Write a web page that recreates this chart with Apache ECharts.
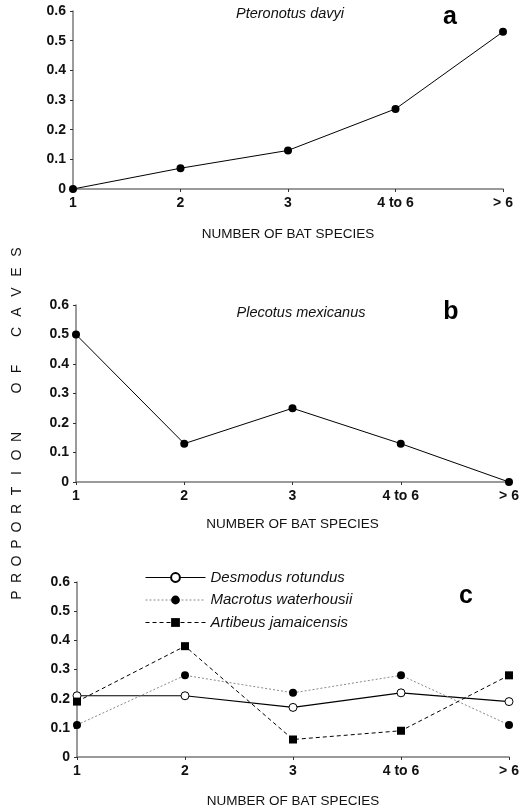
<!DOCTYPE html>
<html><head><meta charset="utf-8">
<script src="https://cdn.jsdelivr.net/npm/echarts@6/dist/echarts.min.js"></script>
<style>html,body{margin:0;padding:0;background:#fff}#c{width:524px;height:809px}</style>
</head><body><div id="c"></div>
<script>
// ---- data ----
const categories = ['1', '2', '3', '4 to 6', '> 6'];
const yTickValues = [0, 0.1, 0.2, 0.3, 0.4, 0.5, 0.6];
const pteronotusDavyi = [0, 0.07, 0.13, 0.27, 0.53];
const plecotusMexicanus = [0.5, 0.13, 0.25, 0.13, 0];
const desmodusRotundus = [0.21, 0.21, 0.17, 0.22, 0.19];
const macrotusWaterhousii = [0.11, 0.28, 0.22, 0.28, 0.11];
const artibeusJamaicensis = [0.19, 0.38, 0.06, 0.09, 0.28];
const xTitle = 'NUMBER OF BAT SPECIES';
const yTitleLetters = 'PROPORTION OF CAVES';

// ---- styles ----
const FONT = '"Liberation Sans", Arial, sans-serif';
const axisGrey = '#7a7a7a';
const grids = [
  {left: 73, top: 11, width: 430, height: 178},
  {left: 76, top: 305, width: 433, height: 177},
  {left: 77, top: 582, width: 432, height: 175}
];
const nameGaps = [38, 35, 37];

function xAxisFor(i) {
  return {
    type: 'category', gridIndex: i, data: categories, boundaryGap: false,
    name: xTitle, nameLocation: 'middle', nameGap: nameGaps[i],
    nameTextStyle: {fontFamily: FONT, fontSize: 13.5, color: '#111'},
    axisLine: {lineStyle: {color: axisGrey, width: 1.5}},
    axisTick: {show: true, length: 3, lineStyle: {color: '#333'}},
    axisLabel: {fontFamily: FONT, fontSize: 14, fontWeight: 'bold', color: '#111', margin: 7},
    splitLine: {show: false}
  };
}
function yAxisFor(i) {
  return {
    type: 'value', gridIndex: i, min: yTickValues[0], max: yTickValues[yTickValues.length - 1], interval: 0.1,
    axisLine: {show: true, lineStyle: {color: axisGrey, width: 1.5}},
    axisTick: {show: true, length: 3, lineStyle: {color: '#333'}},
    axisLabel: {fontFamily: FONT, fontSize: 14, fontWeight: 'bold', color: '#111', margin: 7,
      formatter: v => (v === 0 ? '0' : v.toFixed(1))},
    splitLine: {show: false}
  };
}

// vertical common label, letter by letter (layout positions)
const letterY = [595, 578, 561, 544, 527, 509, 491, 473, 455, 437, null, 388, 369, null, 332, 312, 292, 272, 252];
const yLabelGraphics = [];
yTitleLetters.split('').forEach((ch, k) => {
  if (ch === ' ' || letterY[k] == null) return;
  yLabelGraphics.push({
    type: 'text', x: 17, y: letterY[k], rotation: Math.PI / 2,
    style: {text: ch, fontFamily: FONT, fontSize: 14, fill: '#111', align: 'center', verticalAlign: 'middle'}
  });
});

const option = {
  animation: false,
  backgroundColor: '#fff',
  grid: grids.map(g => Object.assign({containLabel: false}, g)),
  xAxis: [0, 1, 2].map(xAxisFor),
  yAxis: [0, 1, 2].map(yAxisFor),
  legend: {
    orient: 'vertical', left: 140, top: 565, itemWidth: 60, itemHeight: 11, itemGap: 7.5,
    lineStyle: {width: 1},
    textStyle: {fontFamily: FONT, fontSize: 15, fontStyle: 'italic', color: '#111'},
    data: ['Desmodus rotundus', 'Macrotus waterhousii', 'Artibeus jamaicensis']
  },
  series: [
    {name: 'Pteronotus davyi', type: 'line', xAxisIndex: 0, yAxisIndex: 0, data: pteronotusDavyi,
      symbol: 'circle', symbolSize: 8, itemStyle: {color: '#000'}, lineStyle: {color: '#000', width: 1}},
    {name: 'Plecotus mexicanus', type: 'line', xAxisIndex: 1, yAxisIndex: 1, data: plecotusMexicanus,
      symbol: 'circle', symbolSize: 8, itemStyle: {color: '#000'}, lineStyle: {color: '#000', width: 1}},
    {name: 'Desmodus rotundus', type: 'line', xAxisIndex: 2, yAxisIndex: 2, data: desmodusRotundus,
      symbol: 'circle', symbolSize: 8, itemStyle: {color: '#fff', borderColor: '#000', borderWidth: 1},
      lineStyle: {color: '#000', width: 1.2}},
    {name: 'Macrotus waterhousii', type: 'line', xAxisIndex: 2, yAxisIndex: 2, data: macrotusWaterhousii,
      symbol: 'circle', symbolSize: 8, itemStyle: {color: '#000'},
      lineStyle: {color: '#8a8a8a', width: 1, type: [2, 2]}},
    {name: 'Artibeus jamaicensis', type: 'line', xAxisIndex: 2, yAxisIndex: 2, data: artibeusJamaicensis,
      symbol: 'rect', symbolSize: 8, itemStyle: {color: '#000'},
      lineStyle: {color: '#000', width: 1, type: [4, 3]}}
  ],
  graphic: [
    {type: 'text', x: 290, y: 14, style: {text: 'Pteronotus davyi', fontFamily: FONT, fontSize: 14.5, fontStyle: 'italic', fill: '#111', align: 'center', verticalAlign: 'middle'}},
    {type: 'text', x: 301, y: 313, style: {text: 'Plecotus mexicanus', fontFamily: FONT, fontSize: 14.5, fontStyle: 'italic', fill: '#111', align: 'center', verticalAlign: 'middle'}},
    {type: 'text', x: 450, y: 17, style: {text: 'a', fontFamily: FONT, fontSize: 25, fontWeight: 'bold', fill: '#000', align: 'center', verticalAlign: 'middle'}},
    {type: 'text', x: 451, y: 312, style: {text: 'b', fontFamily: FONT, fontSize: 25, fontWeight: 'bold', fill: '#000', align: 'center', verticalAlign: 'middle'}},
    {type: 'text', x: 466, y: 596, style: {text: 'c', fontFamily: FONT, fontSize: 25, fontWeight: 'bold', fill: '#000', align: 'center', verticalAlign: 'middle'}}
  ].concat(yLabelGraphics)
};
const chart = echarts.init(document.getElementById('c'), null, {renderer: 'canvas'});
chart.setOption(option);
</script></body></html>
